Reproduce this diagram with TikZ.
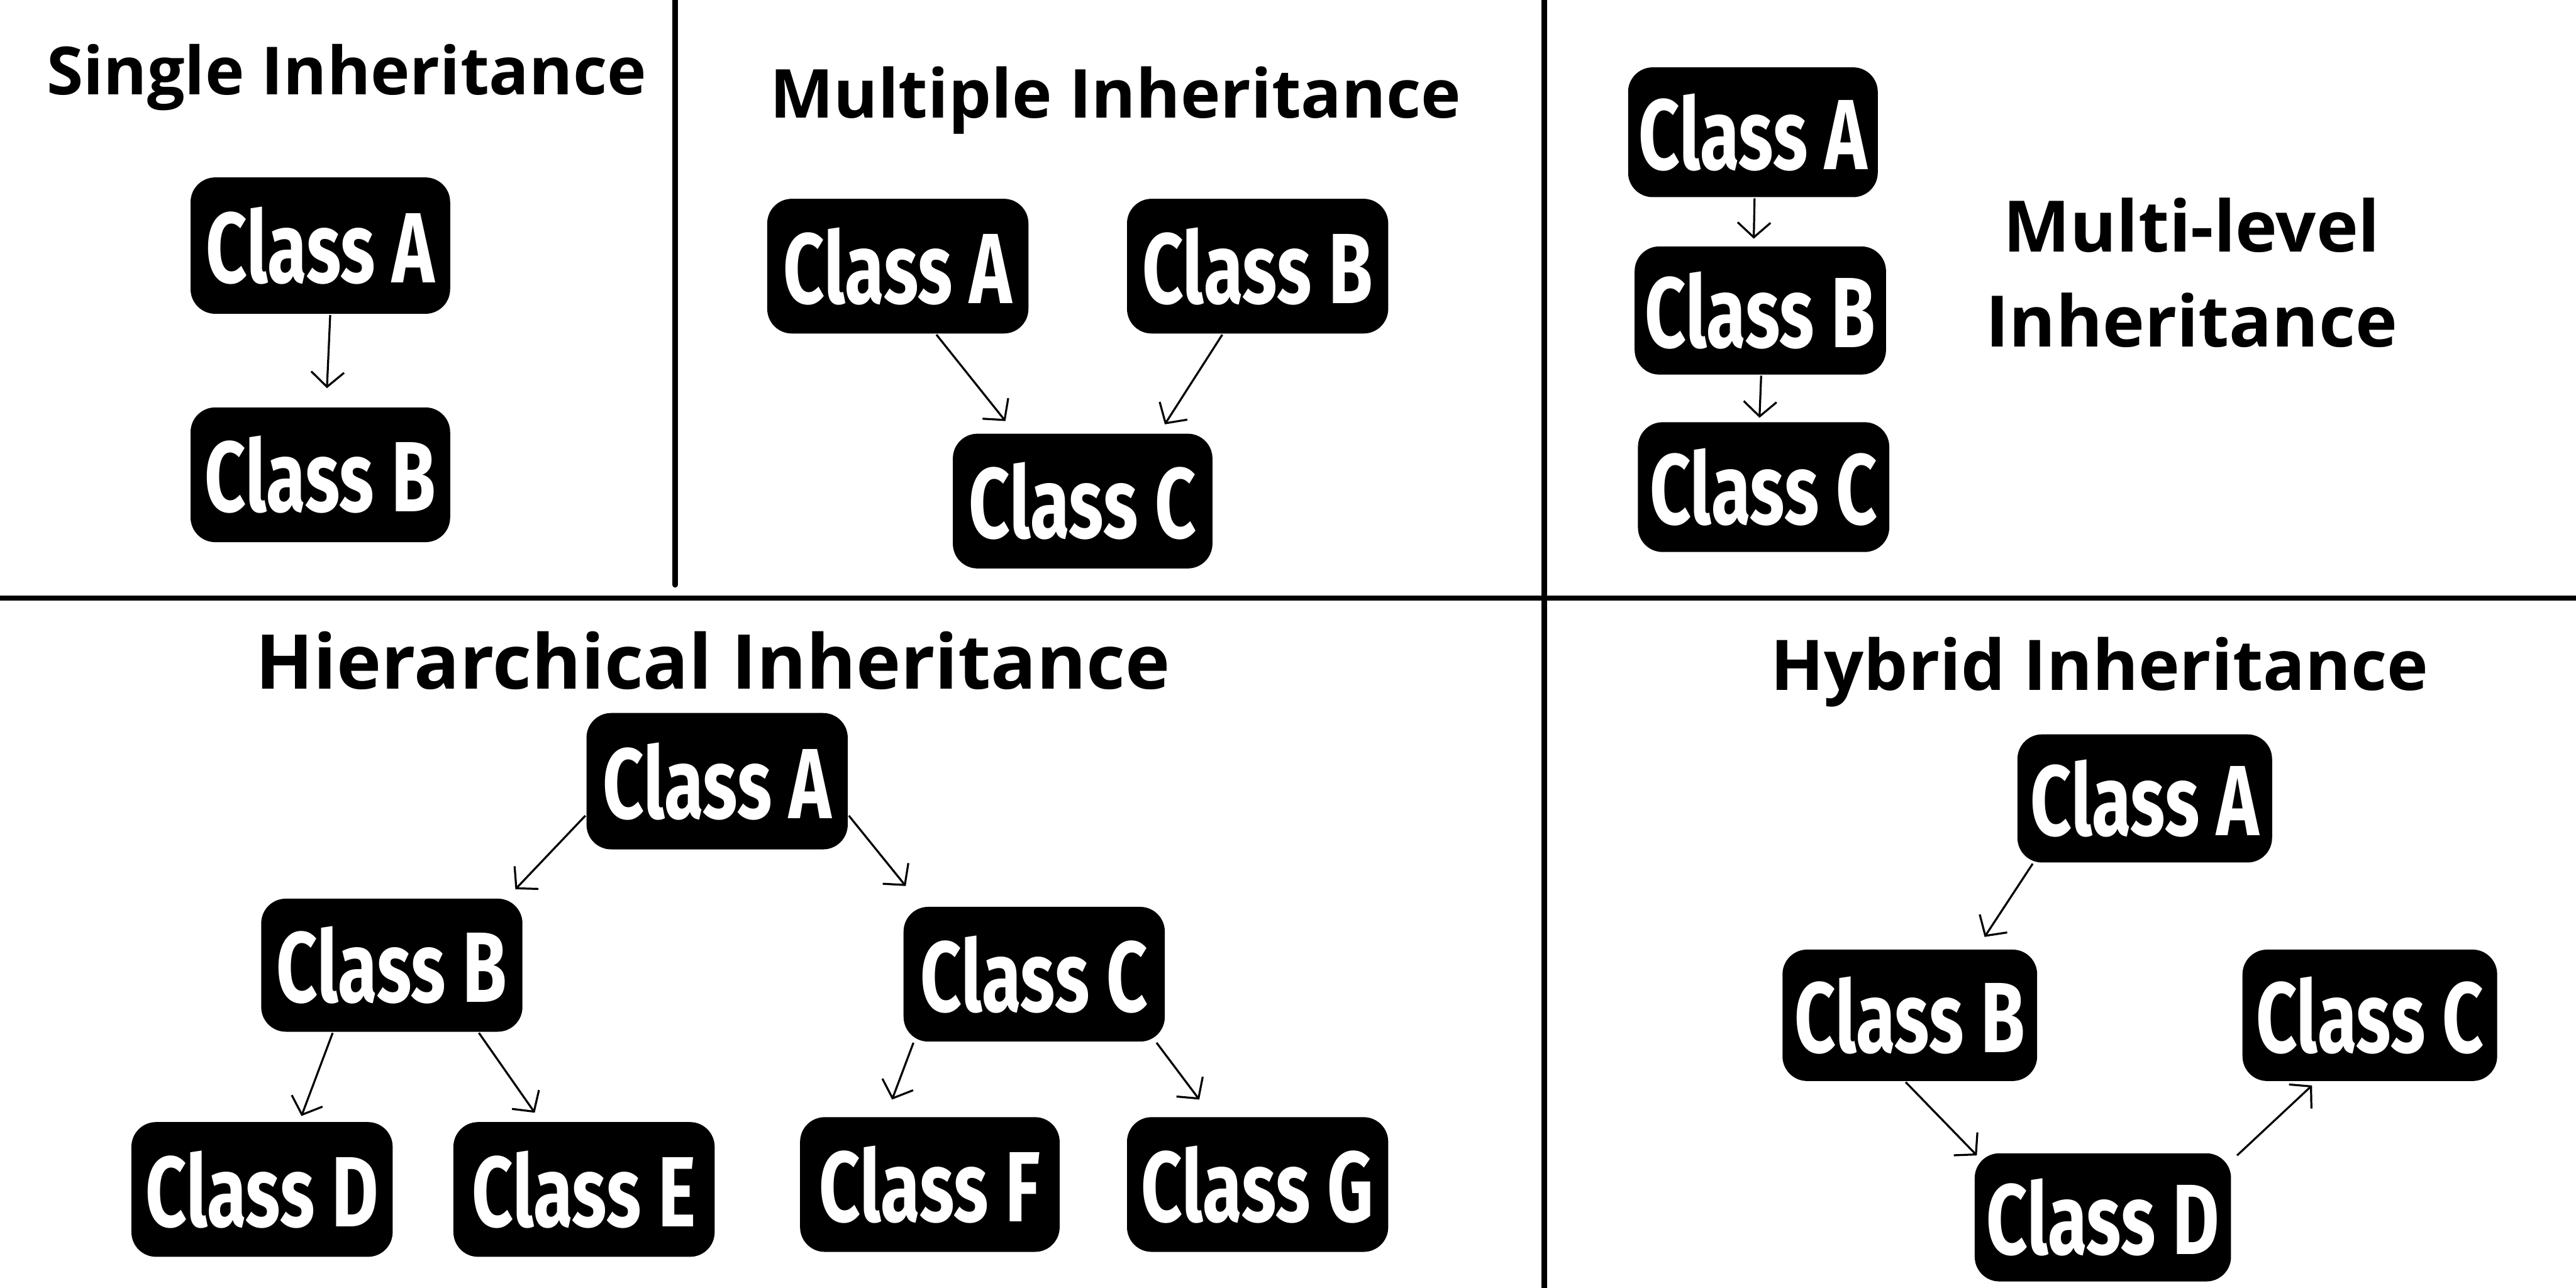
\documentclass[tikz,border=0pt]{standalone}
\usepackage{fontspec}
\setmainfont{Open Sans}
\newfontfamily\titlefont{Open Sans Bold}
\newfontfamily\boxfontfam[FakeStretch=0.72]{Fira Sans Bold}
\usetikzlibrary{calc,arrows.meta}
\begin{document}
\begin{tikzpicture}[x=0.1mm,y=-0.1mm,
  cls/.style={fill=black, rounded corners=1.5mm, text=white,
    font=\boxfontfam\fontsize{17.3pt}{18pt}\selectfont, inner sep=0pt,
    minimum width=15.8mm, minimum height=8.2mm},
  ttl/.style={font=\titlefont\fontsize{#1}{16.5pt}\selectfont, inner sep=0pt, align=center},
  arr/.style={line width=0.35pt, -{Straight Barb[length=0.9mm,width=2mm]}},
  sep/.style={line width=0.95pt, line cap=round}]
\useasboundingbox (0,0) rectangle (1568,784);
\fill[white] (0,0) rectangle (1568,784);
% separators
\coordinate (v1t) at (411,0); \coordinate (v1b) at (411,356);
\coordinate (v2t) at (940,0); \coordinate (v2b) at (940,790);
\coordinate (hl) at (-5,364); \coordinate (hr) at (1575,364);
\draw[sep] (v1t) -- (v1b);
\draw[sep] (v2t) -- (v2b);
\draw[sep] (hl) -- (hr);
% titles
\node[ttl=11.5pt] (t1) at (211,47) {Single Inheritance};
\node[ttl=11.7pt] (t2) at (679,61) {Multiple Inheritance};
\node[ttl=12.3pt] (t3) at (1334,166) {Multi-level\\Inheritance};
\node[ttl=13.1pt] (t4) at (434,402) {Hierarchical Inheritance};
\node[ttl=12.1pt] (t5) at (1278,409) {Hybrid Inheritance};
% single
\node[cls, minimum height=8.3mm] (sA) at (195,149.5) {Class A};
\node[cls] (sB) at (195,289) {Class B};
\draw[arr] ($(sA.south)+(6,0)$) -- ($(sB.north)+(4,-11)$);
% multiple
\node[cls, minimum width=15.9mm] (mA) at (546.5,162) {Class A};
\node[cls, minimum width=15.9mm] (mB) at (765.5,162) {Class B};
\node[cls] (mC) at (659,305) {Class C};
\draw[arr] ($(mA.south)+(23.5,0)$) -- ($(mC.north)+(-47,-7)$);
\draw[arr] ($(mB.south)+(-21.5,0)$) -- ($(mC.north)+(50,-5)$);
% multilevel
\node[cls, minimum width=15.2mm, minimum height=7.9mm] (lA) at (1067,80.5) {Class A};
\node[cls, minimum width=15.3mm, minimum height=7.8mm] (lB) at (1071.5,189) {Class B};
\node[cls, minimum width=15.3mm, minimum height=7.9mm] (lC) at (1073.5,296.5) {Class C};
\draw[arr] ($(lA.south)+(1,0)$) -- ($(lB.north)+(-4,-4)$);
\draw[arr] ($(lB.south)+(0.5,0)$) -- ($(lC.north)+(-2.5,-2)$);
% hierarchical
\node[cls, minimum width=15.9mm, minimum height=8.3mm] (hA) at (436.5,475.5) {Class A};
\node[cls, minimum width=15.9mm, minimum height=8.1mm] (hB) at (238.5,587.5) {Class B};
\node[cls, minimum width=15.9mm] (hC) at (629.5,593) {Class C};
\node[cls, minimum width=15.9mm] (hD) at (159.5,724) {Class D};
\node[cls, minimum width=15.9mm] (hE) at (355.5,724) {Class E};
\node[cls] (hF) at (566,721) {Class F};
\node[cls, minimum width=15.9mm] (hG) at (765.5,721) {Class G};
\draw[arr] ($(hA.west)+(0,21)$) -- ($(hB.north east)+(-5,-5)$);
\draw[arr] ($(hA.east)+(0,21)$) -- ($(hC.north west)+(2,-12)$);
\draw[arr] ($(hB.south)+(-36,0)$) -- ($(hD.north)+(24,-3)$);
\draw[arr] ($(hB.south)+(53,0)$) -- ($(hE.north)+(-30,-5)$);
\draw[arr] ($(hC.south)+(-73.5,0)$) -- ($(hF.north)+(-23,-10)$);
\draw[arr] ($(hC.south)+(74.5,0)$) -- ($(hG.north)+(-35.5,-10)$);
% hybrid
\node[cls, minimum width=15.5mm, minimum height=7.8mm] (yA) at (1305.5,486) {Class A};
\node[cls, minimum width=15.5mm, minimum height=8.0mm] (yB) at (1162.5,618) {Class B};
\node[cls, minimum width=15.5mm, minimum height=8.0mm] (yC) at (1442.5,618) {Class C};
\node[cls, minimum width=15.6mm, minimum height=7.8mm] (yD) at (1280,741) {Class D};
\draw[arr] ($(yA.south west)+(10,0)$) -- ($(yB.north)+(45.5,-7)$);
\draw[arr] ($(yB.south)+(-2.5,0)$) -- ($(yD.north west)+(2,2)$);
\draw[arr] ($(yD.north east)+(3,2)$) -- ($(yC.south west)+(43,2)$);
\end{tikzpicture}
\end{document}
